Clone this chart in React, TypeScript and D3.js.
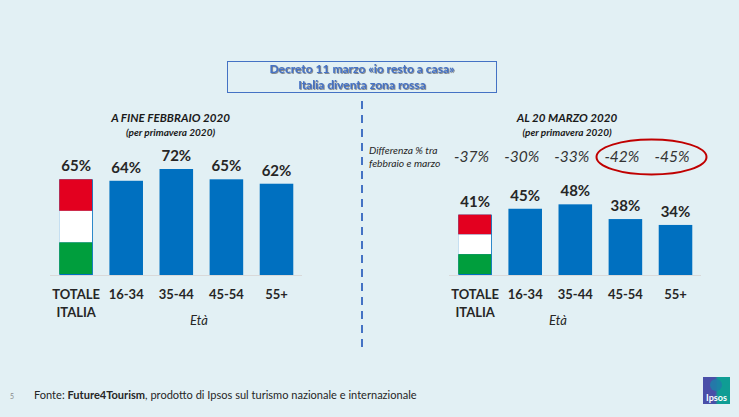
import React from "react";
import * as d3 from "d3";

const categories = ["TOTALE", "16-34", "35-44", "45-54", "55+"];
const febValues = [65, 64, 72, 65, 62];
const marValues = [41, 45, 48, 38, 34];
const diffLabels = ["-37%", "-30%", "-33%", "-42%", "-45%"];

const W = 739, H = 417, BASE = 275;
const FONT = "Lato, 'Open Sans', sans-serif";
const BLUE = "#0070c0", DARK = "#262626";

const y = d3.scaleLinear().domain([0, 72]).range([BASE, 169]);
const xFeb = d3.scaleBand<string>().domain(categories).range([50.8, 301.8]).paddingInner(0.33).paddingOuter(0.17);
const xMar = d3.scaleBand<string>().domain(categories).range([449.8, 700.8]).paddingInner(0.33).paddingOuter(0.17);

function Panel({ x, values, axis }: { x: d3.ScaleBand<string>; values: number[]; axis: [number, number] }) {
  return (
    <g fontFamily={FONT}>
      <line x1={axis[0]} x2={axis[1]} y1={BASE + 0.5} y2={BASE + 0.5} stroke="#d9d9d9" strokeWidth={1} />
      {categories.map((c, i) => {
        const bx = x(c)!, bw = x.bandwidth(), top = y(values[i]), cx = bx + bw / 2, h = BASE - top;
        const stripe = (h - 1) / 3;
        return (
          <g key={c}>
            <rect x={bx} y={top} width={bw} height={h} fill={BLUE} />
            {i === 0 && (
              <g>
                <rect x={bx} y={top} width={bw - 0.8} height={stripe} fill="#e3001f" />
                <rect x={bx} y={top + stripe} width={bw - 0.8} height={stripe} fill="#ffffff" />
                <rect x={bx} y={top + 2 * stripe} width={bw - 0.8} height={stripe} fill="#009e3d" />
              </g>
            )}
            <text x={cx} y={top - 8} textAnchor="middle" fontSize={15} fontWeight={700} fill={DARK}>{values[i]}%</text>
            <text x={cx} y={299} textAnchor="middle" fontSize={13} fontWeight={700} fill={DARK}>{c}</text>
            {i === 0 && <text x={cx} y={317} textAnchor="middle" fontSize={13} fontWeight={700} fill={DARK}>ITALIA</text>}
          </g>
        );
      })}
    </g>
  );
}

export default function App() {
  return (
    <svg width={W} height={H} viewBox={`0 0 ${W} ${H}`} style={{ position: "fixed", left: 0, top: 0, display: "block" }}>
      <defs>
        <filter id="sh" x="-10%" y="-30%" width="120%" height="160%">
          <feDropShadow dx="0.8" dy="0.8" stdDeviation="0.7" floodColor="#555" floodOpacity="0.8" />
        </filter>
        <linearGradient id="logo" x1="0" x2="1" y1="0" y2="0">
          <stop offset="0.45" stopColor="#4a4fa8" />
          <stop offset="0.55" stopColor="#0f9d94" />
        </linearGradient>
      </defs>
      <rect width={W} height={H} fill="#e2f0f4" />

      <rect x={227.5} y={61.5} width={269} height={31} fill="none" stroke="#4472c4" strokeWidth={1} />
      <g fontFamily={FONT} fontSize={12} fontWeight={700} fill="#4472c4" textAnchor="middle" filter="url(#sh)">
        <text x={362} y={73}>Decreto 11 marzo «io resto a casa»</text>
        <text x={362} y={89}>Italia diventa zona rossa</text>
      </g>

      <line x1={362} x2={362} y1={101} y2={347} stroke="#4472c4" strokeWidth={2} strokeDasharray="8 6" />

      <g fontFamily={FONT} textAnchor="middle" fill="#1a1a1a" fontWeight={700} fontStyle="italic">
        <text x={170.5} y={122} fontSize={11.6}>A FINE FEBBRAIO 2020</text>
        <text x={170.5} y={136} fontSize={10}>(per primavera 2020)</text>
        <text x={567} y={122} fontSize={11.6}>AL 20 MARZO 2020</text>
        <text x={567} y={136} fontSize={10}>(per primavera 2020)</text>
      </g>

      <Panel x={xFeb} values={febValues} axis={[50, 302]} />
      <Panel x={xMar} values={marValues} axis={[449, 701]} />

      <g fontFamily={FONT} fontStyle="italic" fontSize={13} fill={DARK} textAnchor="middle">
        <text x={199} y={325}>Età</text>
        <text x={558} y={325}>Età</text>
      </g>

      <g fontFamily={FONT} fontStyle="italic" fontSize={10.3} fill={DARK}>
        <text x={369} y={154}>Differenza % tra</text>
        <text x={369} y={167}>febbraio e marzo</text>
      </g>
      <g fontFamily={FONT} fontStyle="italic" fontSize={15.5} fill="#333" textAnchor="middle">
        {categories.map((c, i) => (
          <text key={c} x={xMar(c)! + xMar.bandwidth() / 2 - 3.5} y={162}>{diffLabels[i]}</text>
        ))}
      </g>
      <ellipse cx={651.5} cy={157} rx={55} ry={17.5} fill="none" stroke="#c00000" strokeWidth={2} />

      <text x={10} y={399} fontFamily={FONT} fontSize={7} fill="#8a8a8a">5</text>
      <text x={34} y={399} fontFamily={FONT} fontSize={11.05} fill={DARK}>
        Fonte: <tspan fontWeight={700}>Future4Tourism</tspan>, prodotto di Ipsos sul turismo nazionale e internazionale
      </text>

      <rect x={703} y={377} width={27} height={27} fill="url(#logo)" />
      <circle cx={716} cy={385} r={6} fill="#1f7fa8" opacity={0.85} />
      <text x={716.5} y={401} textAnchor="middle" fontFamily={FONT} fontSize={9} fontWeight={700} fill="#fff">Ipsos</text>
    </svg>
  );
}
